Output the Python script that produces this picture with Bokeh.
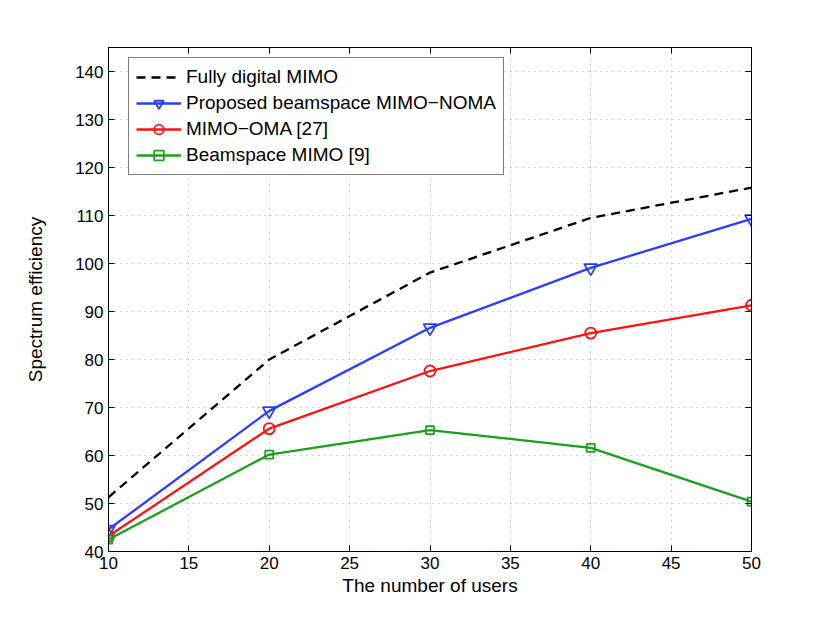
from bokeh.plotting import figure
from bokeh.models import Legend, LegendItem, LinearAxis, FixedTicker, Range1d
from bokeh.embed import file_html
from bokeh.resources import INLINE

users = [10, 20, 30, 40, 50]
fully_digital = [51.3, 80.0, 98.1, 109.5, 115.8]
proposed = [44.6, 69.3, 86.6, 99.1, 109.3]
mimo_oma = [43.2, 65.6, 77.6, 85.5, 91.3]
beamspace = [42.5, 60.2, 65.3, 61.6, 50.4]

x_ticks = [10, 15, 20, 25, 30, 35, 40, 45, 50]
y_ticks = [40, 50, 60, 70, 80, 90, 100, 110, 120, 130, 140]

FONT = "Liberation Sans"

p = figure(width=814, height=600, output_backend="svg", toolbar_location=None,
           x_range=Range1d(10, 50), y_range=Range1d(40, 145),
           min_border_left=108, min_border_right=63, min_border_top=47, min_border_bottom=49)
p.background_fill_color = "white"
p.border_fill_color = "white"
p.outline_line_color = "black"
p.outline_line_width = 1

for ax in (p.xaxis[0], p.yaxis[0]):
    ax.major_tick_in = 6
    ax.major_tick_out = 0
    ax.minor_tick_line_color = None
    ax.axis_line_color = "black"
    ax.major_tick_line_color = "black"
    ax.major_label_text_font = FONT
    ax.major_label_text_font_size = "17px"
    ax.major_label_text_color = "black"
    ax.axis_label_text_font = FONT
    ax.axis_label_text_font_size = "19px"
    ax.axis_label_text_font_style = "normal"
    ax.axis_label_text_color = "black"

p.xaxis.ticker = FixedTicker(ticks=x_ticks)
p.yaxis.ticker = FixedTicker(ticks=y_ticks)
p.xaxis.axis_label = "The number of users"
p.yaxis.axis_label = "Spectrum efficiency"
p.xaxis.major_label_standoff = 5
p.xaxis.axis_label_standoff = 3
p.yaxis.major_label_standoff = 5
p.yaxis.axis_label_standoff = 26

# mirrored ticks on top and right (no labels)
top = LinearAxis(ticker=FixedTicker(ticks=x_ticks),
                 major_label_overrides={t: "" for t in x_ticks},
                 major_tick_in=6, major_tick_out=0, minor_tick_line_color=None,
                 axis_line_color="black", major_tick_line_color="black")
right = LinearAxis(ticker=FixedTicker(ticks=y_ticks),
                   major_label_overrides={t: "" for t in y_ticks},
                   major_tick_in=6, major_tick_out=0, minor_tick_line_color=None,
                   axis_line_color="black", major_tick_line_color="black")
p.add_layout(top, "above")
p.add_layout(right, "right")

p.xgrid.ticker = FixedTicker(ticks=x_ticks)
p.ygrid.ticker = FixedTicker(ticks=y_ticks)
for g in (p.xgrid[0], p.ygrid[0]):
    g.grid_line_color = "#a0a0a0"
    g.grid_line_dash = "1 5"
    g.grid_line_width = 1

BLACK = "black"
BLUE = "#2a3cff"
RED = "#ff1010"
GREEN = "#1aa01a"

l1 = p.line(users, fully_digital, line_color=BLACK, line_width=2.3, line_dash="9 6")
l2 = p.line(users, proposed, line_color=BLUE, line_width=2.3)
m2 = p.scatter(users, proposed, marker="inverted_triangle", size=13, fill_color=None,
               line_color=BLUE, line_width=1.8)
l3 = p.line(users, mimo_oma, line_color=RED, line_width=2.3)
m3 = p.scatter(users, mimo_oma, marker="circle", size=11, fill_color=None,
               line_color=RED, line_width=1.8)
l4 = p.line(users, beamspace, line_color=GREEN, line_width=2.3)
m4 = p.scatter(users, beamspace, marker="square", size=8, fill_color=None,
               line_color=GREEN, line_width=1.8)

legend = Legend(items=[
    LegendItem(label="Fully digital MIMO", renderers=[l1]),
    LegendItem(label="Proposed beamspace MIMO\u2212NOMA", renderers=[l2, m2]),
    LegendItem(label="MIMO\u2212OMA [27]", renderers=[l3, m3]),
    LegendItem(label="Beamspace MIMO [9]", renderers=[l4, m4]),
], location=(20, 376))
legend.label_text_font = FONT
legend.label_text_font_size = "19px"
legend.label_text_color = "black"
legend.border_line_color = "black"
legend.border_line_width = 1
legend.background_fill_alpha = 1
legend.margin = 0
legend.padding = 7
legend.spacing = 2
legend.glyph_width = 45
legend.glyph_height = 24
legend.label_height = 24
legend.label_standoff = 5
legend.label_width = 310
p.add_layout(legend, "center")

open("out.html", "w").write(file_html(p, INLINE))
